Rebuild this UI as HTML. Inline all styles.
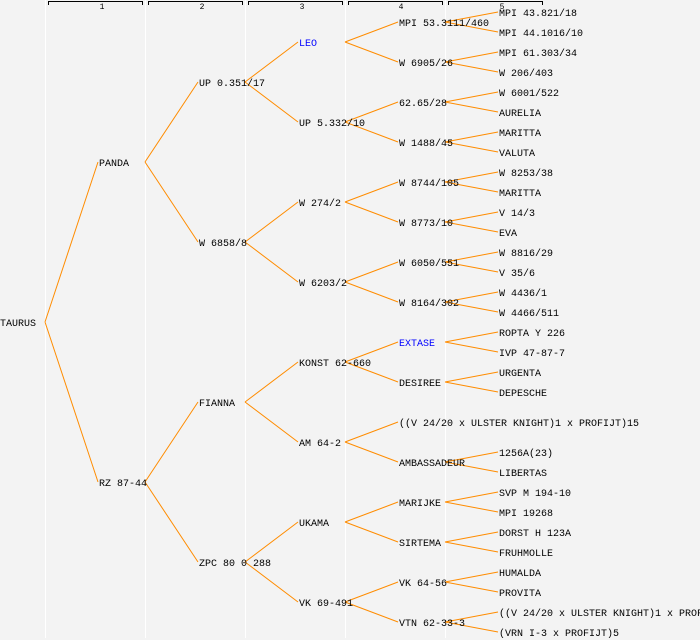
<!DOCTYPE html>
<html><head><style>
html,body{margin:0;padding:0;background:#f3f3f3;}
svg{display:block}
text{font-family:"Liberation Mono","DejaVu Sans Mono",monospace;font-size:10px;fill:#000}
.b{fill:#0000ff}
</style></head><body>
<svg width="700" height="640" xmlns="http://www.w3.org/2000/svg">
<rect width="700" height="640" fill="#f3f3f3"/>
<g stroke="#ffffff" stroke-width="1">
<line x1="45.5" y1="0" x2="45.5" y2="638"/>
<line x1="145.5" y1="0" x2="145.5" y2="638"/>
<line x1="245.5" y1="0" x2="245.5" y2="638"/>
<line x1="345.5" y1="0" x2="345.5" y2="638"/>
<line x1="445.5" y1="0" x2="445.5" y2="638"/>
</g>
<g stroke="#000" stroke-width="1" fill="none">
<path d="M48.5,5 V1.5 H142.5 V5"/>
<path d="M148.5,5 V1.5 H242.5 V5"/>
<path d="M248.5,5 V1.5 H342.5 V5"/>
<path d="M348.5,5 V1.5 H442.5 V5"/>
<path d="M448.5,5 V1.5 H542.5 V5"/>
</g>
<g style="font-size:8px" text-anchor="middle">
<text x="102" y="9" style="font-size:8px">1</text>
<text x="202" y="9" style="font-size:8px">2</text>
<text x="302" y="9" style="font-size:8px">3</text>
<text x="401" y="9" style="font-size:8px">4</text>
<text x="502" y="9" style="font-size:8px">5</text>
</g>
<g stroke="#ff8c00" stroke-width="1" fill="none">
<path d="M45,322L98,162M45,322L98,482"/>
<path d="M145,162L198,82M145,162L198,242M145,482L198,402M145,482L198,562"/>
<path d="M245,82L298,42M245,82L298,122M245,242L298,202M245,242L298,282M245,402L298,362M245,402L298,442M245,562L298,522M245,562L298,602"/>
<path d="M345,42L398,22M345,42L398,62M345,122L398,102M345,122L398,142M345,202L398,182M345,202L398,222M345,282L398,262M345,282L398,302M345,362L398,342M345,362L398,382M345,442L398,422M345,442L398,462M345,522L398,502M345,522L398,542M345,602L398,582M345,602L398,622"/>
<path d="M445,22L498,12M445,22L498,32M445,62L498,52M445,62L498,72M445,102L498,92M445,102L498,112M445,142L498,132M445,142L498,152M445,182L498,172M445,182L498,192M445,222L498,212M445,222L498,232M445,262L498,252M445,262L498,272M445,302L498,292M445,302L498,312M445,342L498,332M445,342L498,352M445,382L498,372M445,382L498,392M445,462L498,452M445,462L498,472M445,502L498,492M445,502L498,512M445,542L498,532M445,542L498,552M445,582L498,572M445,582L498,592M445,622L498,612M445,622L498,632"/>
</g>
<text x="0" y="326">TAURUS</text>
<text x="99" y="166">PANDA</text>
<text x="99" y="486">RZ 87-44</text>
<text x="199" y="86">UP 0.351/17</text>
<text x="199" y="246">W 6858/8</text>
<text x="199" y="406">FIANNA</text>
<text x="199" y="566">ZPC 80 0 288</text>
<text x="299" y="46" class="b">LEO</text>
<text x="299" y="126">UP 5.332/10</text>
<text x="299" y="206">W 274/2</text>
<text x="299" y="286">W 6203/2</text>
<text x="299" y="366">KONST 62-660</text>
<text x="299" y="446">AM 64-2</text>
<text x="299" y="526">UKAMA</text>
<text x="299" y="606">VK 69-491</text>
<text x="399" y="26">MPI 53.3111/460</text>
<text x="399" y="66">W 6905/26</text>
<text x="399" y="106">62.65/28</text>
<text x="399" y="146">W 1488/45</text>
<text x="399" y="186">W 8744/105</text>
<text x="399" y="226">W 8773/10</text>
<text x="399" y="266">W 6050/551</text>
<text x="399" y="306">W 8164/302</text>
<text x="399" y="346" class="b">EXTASE</text>
<text x="399" y="386">DESIREE</text>
<text x="399" y="426">((V 24/20 x ULSTER KNIGHT)1 x PROFIJT)15</text>
<text x="399" y="466">AMBASSADEUR</text>
<text x="399" y="506">MARIJKE</text>
<text x="399" y="546">SIRTEMA</text>
<text x="399" y="586">VK 64-56</text>
<text x="399" y="626">VTN 62-33-3</text>
<text x="499" y="16">MPI 43.821/18</text>
<text x="499" y="36">MPI 44.1016/10</text>
<text x="499" y="56">MPI 61.303/34</text>
<text x="499" y="76">W 206/403</text>
<text x="499" y="96">W 6001/522</text>
<text x="499" y="116">AURELIA</text>
<text x="499" y="136">MARITTA</text>
<text x="499" y="156">VALUTA</text>
<text x="499" y="176">W 8253/38</text>
<text x="499" y="196">MARITTA</text>
<text x="499" y="216">V 14/3</text>
<text x="499" y="236">EVA</text>
<text x="499" y="256">W 8816/29</text>
<text x="499" y="276">V 35/6</text>
<text x="499" y="296">W 4436/1</text>
<text x="499" y="316">W 4466/511</text>
<text x="499" y="336">ROPTA Y 226</text>
<text x="499" y="356">IVP 47-87-7</text>
<text x="499" y="376">URGENTA</text>
<text x="499" y="396">DEPESCHE</text>
<text x="499" y="456">1256A(23)</text>
<text x="499" y="476">LIBERTAS</text>
<text x="499" y="496">SVP M 194-10</text>
<text x="499" y="516">MPI 19268</text>
<text x="499" y="536">DORST H 123A</text>
<text x="499" y="556">FRUHMOLLE</text>
<text x="499" y="576">HUMALDA</text>
<text x="499" y="596">PROVITA</text>
<text x="499" y="616">((V 24/20 x ULSTER KNIGHT)1 x PROFIJT)15</text>
<text x="499" y="636">(VRN I-3 x PROFIJT)5</text>
</svg>
</body></html>
